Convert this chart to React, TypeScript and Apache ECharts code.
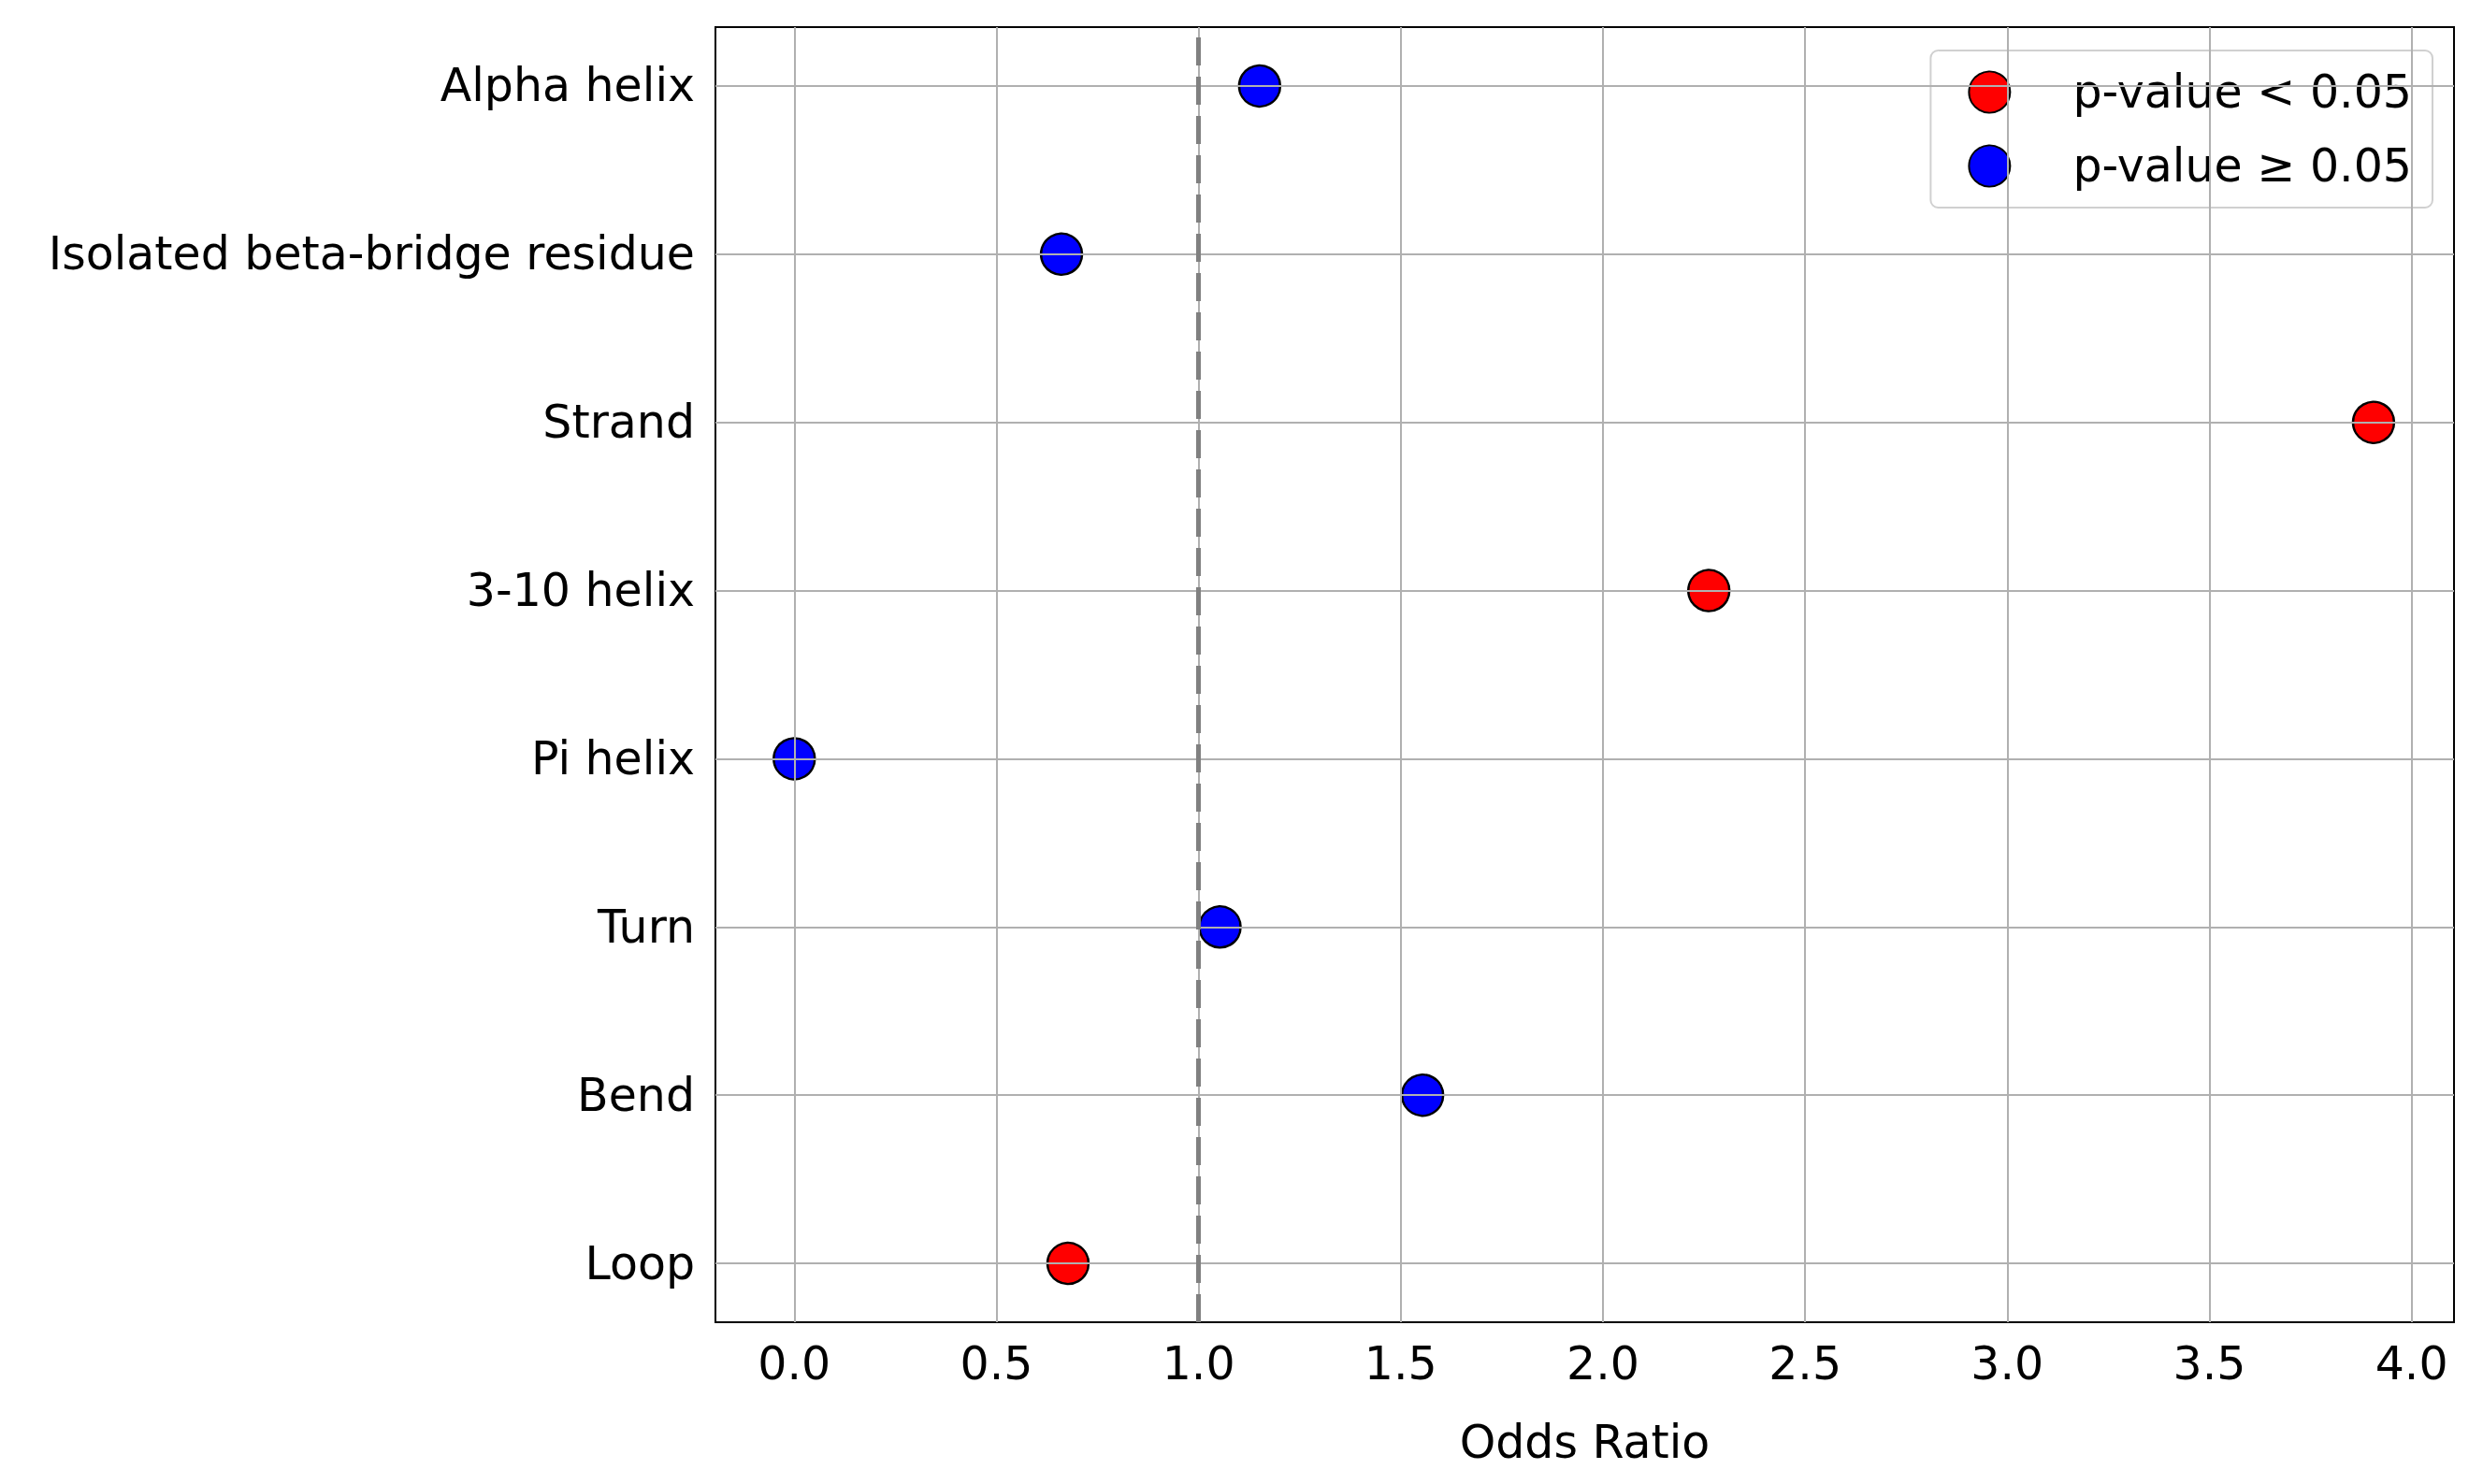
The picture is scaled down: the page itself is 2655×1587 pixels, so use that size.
import { useEffect, useRef } from "react";
import * as echarts from "echarts";

const categories = ["Loop", "Bend", "Turn", "Pi helix", "3-10 helix", "Strand", "Isolated beta-bridge residue", "Alpha helix"];
const oddsRatios = [0.677, 1.554, 1.053, 0.0, 2.262, 3.906, 0.661, 1.151];
const significant = [true, false, false, false, true, true, false, false];
const xTicks = [0, 0.5, 1, 1.5, 2, 2.5, 3, 3.5, 4];
const yTicks = [0, 1, 2, 3, 4, 5, 6, 7];

const FONT = "DejaVu Sans";

export default function App() {
    const ref = useRef<HTMLDivElement | null>(null);

    useEffect(() => {
        document.body.style.margin = "0";
        if (!ref.current) return;
        const chart = echarts.init(ref.current, undefined, { renderer: "svg" });

        const sigData = oddsRatios.map((v, i) => (significant[i] ? [v, i] : null)).filter(Boolean);
        const nonData = oddsRatios.map((v, i) => (!significant[i] ? [v, i] : null)).filter(Boolean);

        const marker = { symbol: "circle", symbolSize: 44 };
        const border = { borderColor: "#000", borderWidth: 2.5, opacity: 1 };

        chart.setOption({
            animation: false,
            backgroundColor: "#fff",
            textStyle: { fontFamily: FONT },
            grid: {
                left: 765, top: 29, width: 1859, height: 1385,
                show: true, borderColor: "#000", borderWidth: 2, backgroundColor: "transparent",
            },
            legend: {
                right: 54, top: 54,
                orient: "vertical",
                data: ["p-value < 0.05", "p-value ≥ 0.05"],
                backgroundColor: "rgba(255,255,255,0.8)",
                borderColor: "#d0d0d0", borderWidth: 2, borderRadius: 8,
                padding: [20, 22, 20, 40],
                itemGap: 30, itemWidth: 44, itemHeight: 44,
                textStyle: { fontFamily: FONT, fontSize: 49, color: "#000", padding: [0, 0, 0, 62] },
            },
            xAxis: {
                type: "value", min: -0.195, max: 4.105,
                name: "Odds Ratio", nameLocation: "middle", nameGap: 104,
                nameTextStyle: { fontFamily: FONT, fontSize: 49, color: "#000" },
                axisLine: { show: false },
                axisTick: { show: true, length: 10, lineStyle: { color: "#000", width: 2 }, customValues: xTicks },
                axisLabel: {
                    fontFamily: FONT, fontSize: 49, color: "#000", margin: 20,
                    customValues: xTicks, formatter: (v: number) => v.toFixed(1),
                },
                splitLine: { show: false },
            },
            yAxis: {
                type: "value", min: -0.35, max: 7.35,
                axisLine: { show: false },
                axisTick: { show: true, length: 10, lineStyle: { color: "#000", width: 2 }, customValues: yTicks },
                axisLabel: {
                    fontFamily: FONT, fontSize: 49, color: "#000", margin: 22,
                    customValues: yTicks, formatter: (v: number) => categories[Math.round(v)] ?? "",
                },
                splitLine: { show: false },
            },
            series: [
                {
                    name: "grid", type: "line", data: [], z: 1, silent: true,
                    markLine: {
                        silent: true, symbol: "none", label: { show: false },
                        lineStyle: { color: "#b0b0b0", width: 2, type: "solid" },
                        data: [...xTicks.map((x) => ({ xAxis: x })), ...yTicks.map((y) => ({ yAxis: y }))],
                    },
                },
                {
                    name: "ref", type: "line", data: [], z: 2, silent: true,
                    markLine: {
                        silent: true, symbol: "none", label: { show: false },
                        lineStyle: { color: "#808080", width: 5, type: [30, 12] },
                        data: [{ xAxis: 1 }],
                    },
                },
                { name: "p-value < 0.05", type: "scatter", data: sigData, z: 3, ...marker, itemStyle: { ...border, color: "#ff0000" } },
                { name: "p-value ≥ 0.05", type: "scatter", data: nonData, z: 3, ...marker, itemStyle: { ...border, color: "#0000ff" } },
            ],
        });

        return () => chart.dispose();
    }, []);

    return <div ref={ref} style={{ width: 2655, height: 1587 }} />;
}
